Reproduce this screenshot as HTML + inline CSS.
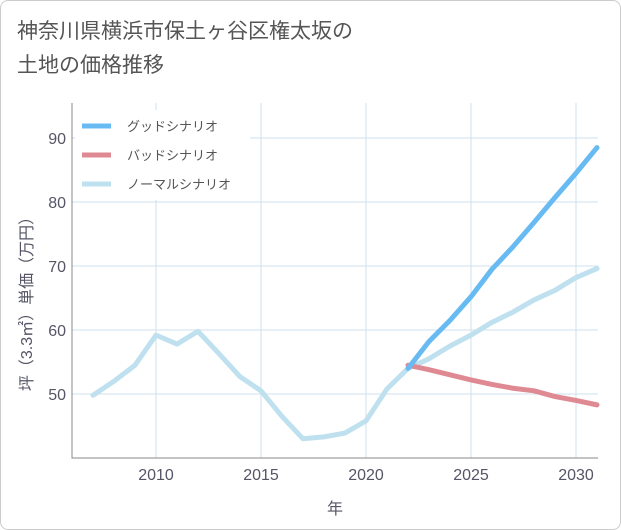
<!DOCTYPE html>
<html><head><meta charset="utf-8"><style>
body{margin:0;background:#fff;font-family:"Liberation Sans","Noto Sans CJK JP",sans-serif}
#wrap{width:619px;height:528px;border:1px solid #ccc;border-radius:8px;position:relative;overflow:hidden;background:#fff}
#title{position:absolute;left:16px;top:14px;font-size:21px;line-height:34px;color:#555;font-family:"Liberation Sans","Noto Sans CJK JP",sans-serif}
</style></head><body>
<div id="wrap">
<div id="title">神奈川県横浜市保土ヶ谷区権太坂の<br>土地の価格推移</div>
<svg id="svg" width="621" height="530" style="position:absolute;left:-1px;top:-1px"></svg>
</div>
<script>
const years=[2007,2008,2009,2010,2011,2012,2013,2014,2015,2016,2017,2018,2019,2020,2021,2022,2023,2024,2025,2026,2027,2028,2029,2030,2031];
const normal=[49.8,52,54.5,59.2,57.8,59.8,56.3,52.7,50.5,46.5,43,43.3,43.9,45.8,50.8,54,55.5,57.5,59.2,61.2,62.8,64.7,66.2,68.2,69.6];
const fYears=[2022,2023,2024,2025,2026,2027,2028,2029,2030,2031];
const good=[54,58.2,61.5,65.2,69.5,73,76.8,80.7,84.5,88.5];
const bad=[54.5,53.8,53,52.2,51.5,50.9,50.5,49.6,49,48.3];
const xTicks=[2010,2015,2020,2025,2030];
const yTicks=[50,60,70,80,90];
const NS="http://www.w3.org/2000/svg";
const svg=document.getElementById('svg');
const L=72,R=598,T=103,B=458;
const x=v=>156+(v-2010)*21;
const y=v=>394-(v-50)*6.4;
function mk(t,a,p){const e=document.createElementNS(NS,t);for(const k in a)e.setAttribute(k,a[k]);(p||svg).appendChild(e);return e;}
for(const t of xTicks){const g=mk('line',{x1:x(t),x2:x(t),y1:T,y2:B,stroke:'#cfe0ec','stroke-width':1});


const tx=mk('text',{x:x(t),y:B+22,'text-anchor':'middle','font-size':16,fill:'#556'});tx.textContent=t;

}
for(const t of yTicks){const g=mk('line',{x1:L,x2:R,y1:y(t),y2:y(t),stroke:'#cfe0ec','stroke-width':1});


const tx=mk('text',{x:L-6,y:y(t)+6,'text-anchor':'end','font-size':16,fill:'#556'});tx.textContent=t;

}
const ax=mk('path',{d:`M${L},${T}V${B}H${R}`,fill:'none',stroke:'#888','stroke-width':1});


function line(xs,vs,c,n){const p=mk('polyline',{points:xs.map((v,i)=>x(v)+','+y(vs[i])).join(' '),fill:'none',stroke:c,'stroke-width':5,'stroke-linejoin':'round','stroke-linecap':'round'});

}
line(years,normal,'#bfe0ee','normal-scenario-line');
line(fYears,bad,'#df8a92','bad-scenario-line');
line(fYears,good,'#67bbf2','good-scenario-line');
const lg=mk('rect',{x:75,y:110,width:175,height:90,fill:'#fff'});


const items=[['グッドシナリオ','#67bbf2'],['バッドシナリオ','#df8a92'],['ノーマルシナリオ','#bfe0ee']];
items.forEach((it,i)=>{const yy=126+i*29;
const l=mk('line',{x1:82,x2:111,y1:yy,y2:yy,stroke:it[1],'stroke-width':5});


const t=mk('text',{x:127,y:yy+5,'font-size':13,fill:'#555'});t.textContent=it[0];

});
const xt=mk('text',{x:335,y:514,'text-anchor':'middle','font-size':16,fill:'#556'});xt.textContent='年';


const yt=mk('text',{x:0,y:0,'text-anchor':'middle','font-size':16,fill:'#556',transform:'translate(32,300) rotate(-90)'});yt.textContent='坪（3.3㎡）単価（万円）';


</script>
</body></html>
